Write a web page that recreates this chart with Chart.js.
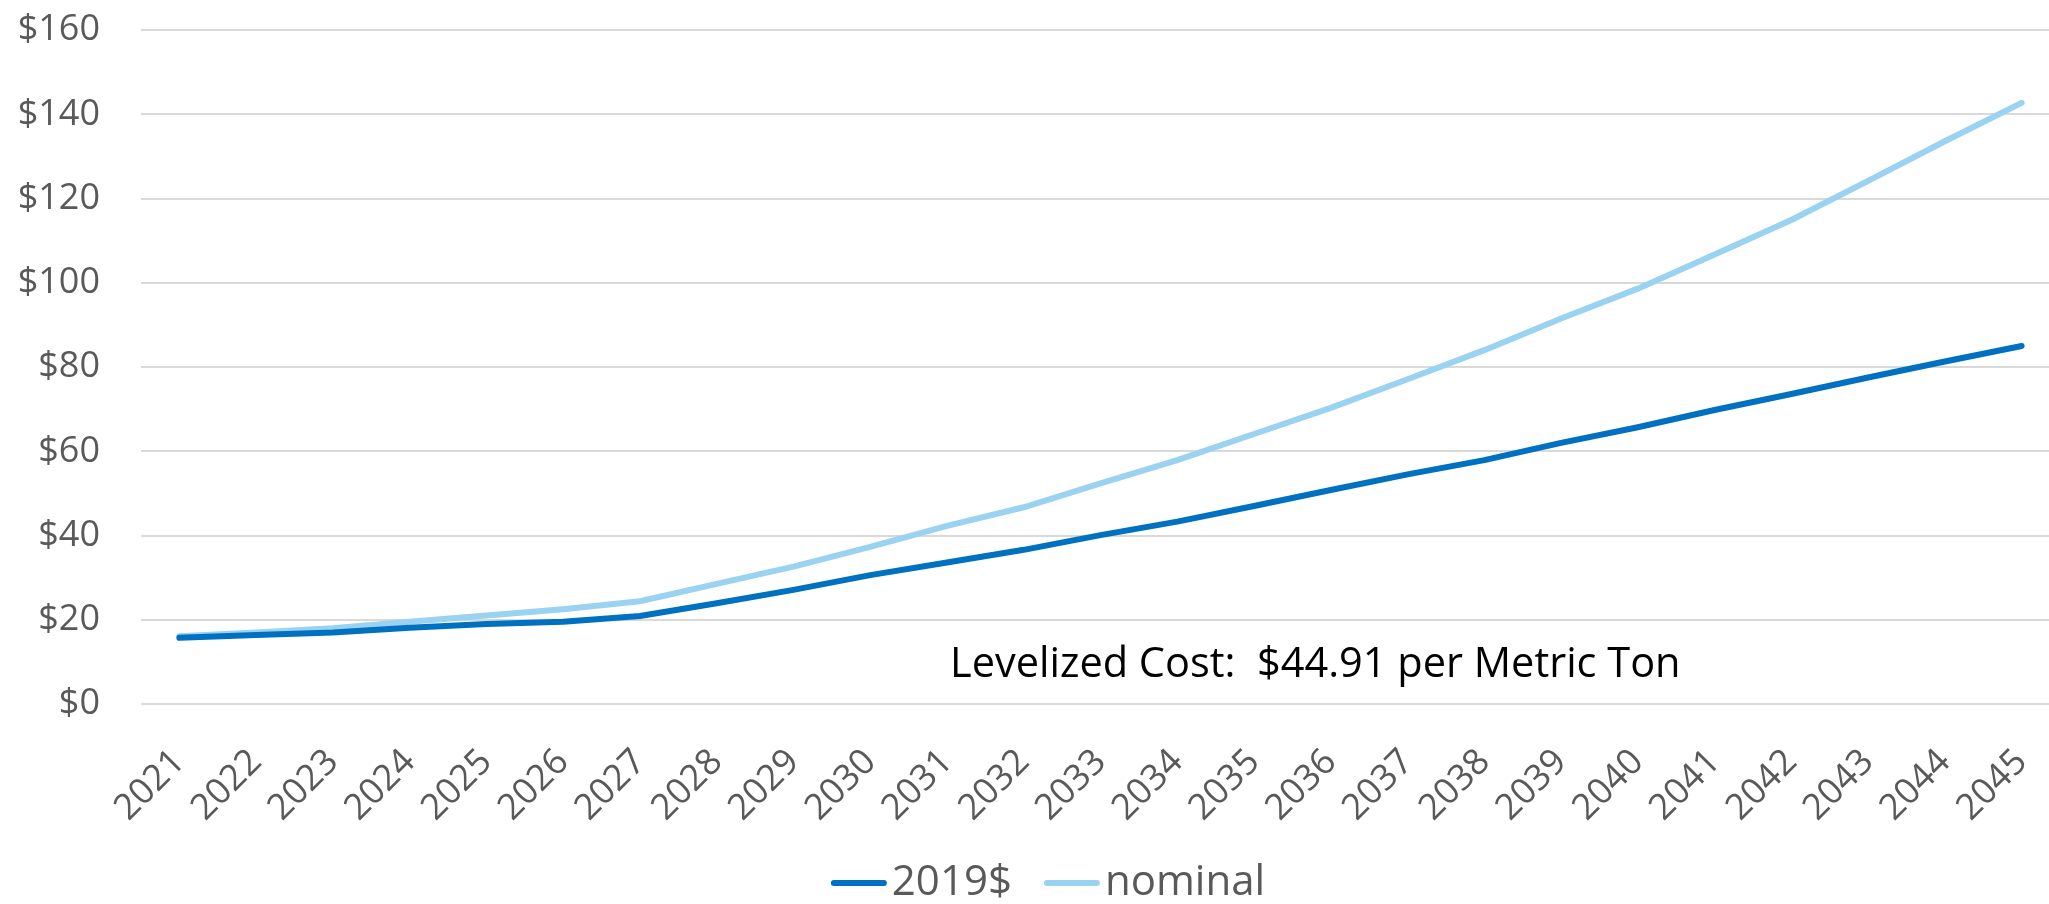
<!DOCTYPE html>
<html>
<head>
<meta charset="utf-8">
<script src="https://cdn.jsdelivr.net/npm/chart.js@4/dist/chart.umd.min.js"></script>
<style>
  html, body { margin: 0; padding: 0; background: #fff; overflow: hidden; }
  /* plot runs a little past the right edge of the window, as in the original */
  #wrap { position: absolute; left: 0; top: 0; width: 2060px; height: 904px; }
</style>
</head>
<body>
<div id="wrap"><canvas id="cost-chart"></canvas></div>
<script>
// Carbon cost per metric ton, 2021-2045

const years = ['2021', '2022', '2023', '2024', '2025', '2026', '2027', '2028', '2029', '2030',
  '2031', '2032', '2033', '2034', '2035', '2036', '2037', '2038', '2039', '2040',
  '2041', '2042', '2043', '2044', '2045'];

const real2019 = [15.7, 16.4, 17.0, 18.1, 19.0, 19.5, 20.9, 23.9, 27.1, 30.6,
  33.6, 36.6, 40.1, 43.3, 47.0, 50.8, 54.5, 57.9, 62.0, 65.7,
  69.8, 73.6, 77.5, 81.3, 85.0];

const nominal = [16.1, 17.0, 18.0, 19.5, 21.0, 22.5, 24.4, 28.5, 32.6, 37.3,
  42.3, 46.7, 52.4, 57.9, 64.1, 70.3, 77.1, 84.0, 91.5, 98.6,
  106.7, 114.9, 124.2, 133.6, 142.7];

const yMax = 160;
const yStep = 20;
const noteText = 'Levelized Cost:  $44.91 per Metric Ton';

const labelGrey = '#595959';
const fontFamily = '"Open Sans"';

// text box sitting inside the plot
const notePlugin = {
  id: 'levelizedNote',
  afterDatasetsDraw(chart) {
    const { ctx, scales: { x, y } } = chart;
    ctx.save();
    ctx.font = `41.5px ${fontFamily}`;
    ctx.fillStyle = '#000000';
    ctx.textAlign = 'left';
    ctx.textBaseline = 'alphabetic';
    ctx.fillText(noteText, x.getPixelForValue(10) + 3, y.getPixelForValue(6.4));
    ctx.restore();
  }
};

// Excel style legend: short line sample with the name right next to it
const legendPlugin = {
  id: 'bottomLegend',
  afterDraw(chart) {
    const { ctx } = chart;
    const sampleW = 56, textGap = 5, itemGap = 32;
    const centerX = 1048, centerY = 883;
    ctx.save();
    ctx.font = `42px ${fontFamily}`;
    const items = chart.data.datasets.map(ds => ({
      text: ds.label,
      color: ds.borderColor,
      w: ctx.measureText(ds.label).width
    }));
    const total = items.reduce((s, it) => s + sampleW + textGap + it.w, 0) + itemGap * (items.length - 1);
    let x = centerX - total / 2;
    items.forEach(it => {
      ctx.strokeStyle = it.color;
      ctx.lineWidth = 6;
      ctx.lineCap = 'round';
      ctx.beginPath();
      ctx.moveTo(x + 3, centerY);
      ctx.lineTo(x + sampleW - 3, centerY);
      ctx.stroke();
      x += sampleW + textGap;
      ctx.fillStyle = labelGrey;
      ctx.textAlign = 'left';
      ctx.textBaseline = 'middle';
      ctx.fillText(it.text, x, centerY);
      x += it.w + itemGap;
    });
    ctx.restore();
  }
};

new Chart(document.getElementById('cost-chart'), {
  type: 'line',
  data: {
    labels: years,
    datasets: [
      {
        label: '2019$',
        data: real2019,
        borderColor: '#0070C0',
        backgroundColor: '#0070C0',
        borderWidth: 6,
        borderCapStyle: 'round',
        borderJoinStyle: 'round',
        pointRadius: 0,
        tension: 0
      },
      {
        label: 'nominal',
        data: nominal,
        borderColor: '#9AD2F1',
        backgroundColor: '#9AD2F1',
        borderWidth: 6,
        borderCapStyle: 'round',
        borderJoinStyle: 'round',
        pointRadius: 0,
        tension: 0
      }
    ]
  },
  options: {
    responsive: true,
    maintainAspectRatio: false,
    animation: false,
    layout: {
      padding: { top: 30, right: 0, bottom: 54, left: 0 }
    },
    plugins: {
      tooltip: { enabled: false },
      legend: { display: false }
    },
    scales: {
      x: {
        offset: true,
        afterFit: (scale) => {
          scale.height = 146;
          scale.paddingLeft = 0;
          scale.paddingRight = 0;
        },
        grid: { display: false },
        border: { display: false },
        ticks: {
          color: labelGrey,
          font: { family: fontFamily, size: 36 },
          minRotation: 45,
          maxRotation: 45,
          autoSkip: false,
          padding: 29
        }
      },
      y: {
        min: 0,
        max: yMax,
        afterFit: (scale) => {
          scale.width = 141;
          scale.paddingTop = 0;
          scale.paddingBottom = 0;
        },
        grid: { color: '#D9D9D9', lineWidth: 2, drawTicks: false },
        border: { display: false },
        ticks: {
          stepSize: yStep,
          color: labelGrey,
          font: { family: fontFamily, size: 36 },
          padding: 41,
          callback: (value) => '$' + value
        }
      }
    }
  },
  plugins: [notePlugin, legendPlugin]
});
</script>
</body>
</html>
